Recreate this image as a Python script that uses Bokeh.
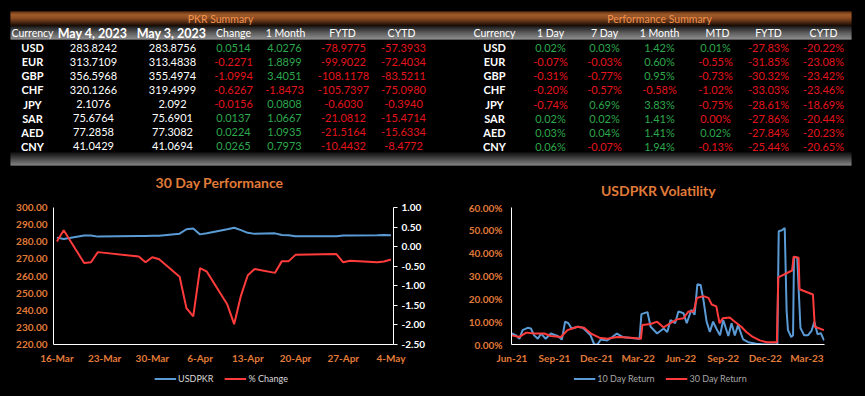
import numpy as np
import pandas as pd
from bokeh.plotting import figure
from bokeh.models import (Range1d, LinearAxis, NumeralTickFormatter, FixedTicker,
                          CustomJSTickFormatter, ColumnDataSource, Legend, LegendItem)
from bokeh.layouts import column, row
from bokeh.core.properties import value
from bokeh.embed import file_html
from bokeh.resources import INLINE

# ------------------------------------------------------------------ data
currencies = ["USD", "EUR", "GBP", "CHF", "JPY", "SAR", "AED", "CNY"]

pkr_headers = ["Currency", "May 4, 2023", "May 3, 2023", "Change", "1 Month", "FYTD", "CYTD"]
rate_may4 = ["283.8242", "313.7109", "356.5968", "320.1266", "2.1076", "75.6764", "77.2858", "41.0429"]
rate_may3 = ["283.8756", "313.4838", "355.4974", "319.4999", "2.092", "75.6901", "77.3082", "41.0694"]
pkr_change = [0.0514, -0.2271, -1.0994, -0.6267, -0.0156, 0.0137, 0.0224, 0.0265]
pkr_1month = [4.0276, 1.8899, 3.4051, -1.8473, 0.0808, 1.0667, 1.0935, 0.7973]
pkr_fytd = [-78.9775, -99.9022, -108.1178, -105.7397, -0.6030, -21.0812, -21.5164, -10.4432]
pkr_cytd = [-57.3933, -72.4034, -83.5211, -75.0980, -0.3940, -15.4714, -15.6334, -8.4772]

perf_headers = ["Currency", "1 Day", "7 Day", "1 Month", "MTD", "FYTD", "CYTD"]
perf_1day = [0.02, -0.07, -0.31, -0.20, -0.74, 0.02, 0.03, 0.06]
perf_7day = [0.03, -0.03, -0.77, -0.57, 0.69, 0.02, 0.04, -0.07]
perf_1month = [1.42, 0.60, 0.95, -0.58, 3.83, 1.41, 1.41, 1.94]
perf_mtd = [0.01, -0.55, -0.73, -1.02, -0.75, -0.004, 0.02, -0.13]
perf_fytd = [-27.83, -31.85, -30.32, -33.03, -28.61, -27.86, -27.84, -25.44]
perf_cytd = [-20.22, -23.08, -23.42, -23.46, -18.69, -20.44, -20.23, -20.65]

chart_titles = ["30 Day Performance", "USDPKR Volatility"]

perf_dates = ["2023-03-16", "2023-03-17", "2023-03-20", "2023-03-21", "2023-03-22",
              "2023-03-28", "2023-03-29", "2023-03-30", "2023-03-31", "2023-04-03",
              "2023-04-04", "2023-04-05", "2023-04-06", "2023-04-07", "2023-04-10",
              "2023-04-11", "2023-04-12", "2023-04-13", "2023-04-14", "2023-04-17",
              "2023-04-18", "2023-04-19", "2023-04-20", "2023-04-26", "2023-04-27",
              "2023-04-28", "2023-05-02", "2023-05-03", "2023-05-04"]
usdpkr = [282.4, 281.6, 283.6, 283.7, 283.0, 283.4, 283.4, 283.5, 283.5, 284.7,
          287.3, 287.8, 284.3, 285.0, 287.3, 288.2, 286.8, 285.2, 284.6, 284.9,
          283.9, 283.8, 283.2, 283.2, 283.7, 283.7, 283.8, 283.88, 283.82]
pct_change = [0.13, 0.42, -0.42, -0.40, -0.14, -0.25, -0.40, -0.27, -0.32, -0.77,
              -1.57, -1.78, -0.55, -0.64, -1.48, -1.98, -1.25, -0.73, -0.57, -0.67,
              -0.37, -0.37, -0.21, -0.19, -0.40, -0.36, -0.40, -0.38, -0.33]
perf_ticks = ["2023-03-16", "2023-03-23", "2023-03-30", "2023-04-06", "2023-04-13",
              "2023-04-20", "2023-04-27", "2023-05-04"]
usd_ticks = [220, 230, 240, 250, 260, 270, 280, 290, 300]
pct_ticks = [-2.5, -2.0, -1.5, -1.0, -0.5, 0.0, 0.5, 1.0]

vol10_dates = ["2021-06-28", "2021-07-07", "2021-07-14", "2021-07-21", "2021-08-01",
               "2021-08-08", "2021-08-15", "2021-08-23", "2021-08-30", "2021-09-09",
               "2021-09-20", "2021-10-05", "2021-10-14", "2021-10-21", "2021-10-28",
               "2021-11-04", "2021-11-17", "2021-11-28", "2021-12-08", "2021-12-15",
               "2021-12-23", "2021-12-30", "2022-01-06", "2022-01-20", "2022-01-31",
               "2022-02-10", "2022-02-22", "2022-03-13", "2022-03-31", "2022-04-04",
               "2022-04-17", "2022-04-24", "2022-05-08", "2022-05-22", "2022-05-30",
               "2022-06-06", "2022-06-16", "2022-06-23", "2022-07-04", "2022-07-11",
               "2022-07-21", "2022-07-28", "2022-08-03", "2022-08-10", "2022-08-16",
               "2022-08-23", "2022-08-30", "2022-09-06", "2022-09-13", "2022-09-21",
               "2022-09-28", "2022-10-09", "2022-10-16", "2022-10-23", "2022-10-30",
               "2022-11-10", "2022-11-21", "2022-12-08", "2022-12-25", "2023-01-23",
               "2023-01-26", "2023-02-02", "2023-02-08", "2023-02-12", "2023-02-15",
               "2023-02-22", "2023-02-26", "2023-02-28", "2023-03-07", "2023-03-14",
               "2023-03-22", "2023-03-30", "2023-04-07", "2023-04-13", "2023-04-20",
               "2023-04-27", "2023-05-04"]
vol10 = [4.8, 4.0, 2.5, 6.3, 7.3, 7.0, 4.0, 2.5, 4.8, 2.5,
         4.8, 3.7, 2.2, 10.0, 9.3, 7.0, 7.8, 7.3, 5.5, 4.0,
         0.0, 0.0, 2.2, 1.8, 3.3, 4.8, 3.3, 2.8, 2.5, 13.3,
         14.2, 7.8, 4.8, 7.0, 5.5, 10.7, 9.3, 14.5, 13.7, 9.3,
         15.2, 13.0, 26.4, 26.1, 19.7, 10.0, 5.5, 10.0, 7.0, 4.0,
         10.7, 3.7, 9.3, 4.0, 8.5, 2.2, 1.0, 0.3, 0.0, 0.0,
         49.6, 50.0, 51.0, 15.0, 6.3, 3.3, 4.0, 38.4, 38.0, 7.2,
         4.0, 4.0, 6.0, 10.0, 4.5, 5.0, 1.8]

vol30_dates = ["2021-06-28", "2021-07-14", "2021-07-29", "2021-08-15", "2021-09-06",
               "2021-09-20", "2021-10-12", "2021-10-26", "2021-11-17", "2021-12-01",
               "2021-12-16", "2022-01-03", "2022-01-20", "2022-02-11", "2022-03-12",
               "2022-04-03", "2022-04-06", "2022-04-24", "2022-05-08", "2022-05-22",
               "2022-06-05", "2022-06-20", "2022-07-04", "2022-07-15", "2022-07-26",
               "2022-08-02", "2022-08-16", "2022-08-27", "2022-09-03", "2022-09-13",
               "2022-09-20", "2022-09-27", "2022-10-12", "2022-10-23", "2022-11-06",
               "2022-11-17", "2022-12-01", "2022-12-16", "2022-12-31", "2023-01-22",
               "2023-01-25", "2023-02-24", "2023-02-27", "2023-03-10", "2023-03-12",
               "2023-04-10", "2023-04-14", "2023-05-04"]
vol30 = [4.0, 3.3, 5.2, 4.8, 4.8, 3.7, 3.3, 6.3, 7.8, 7.3,
         4.8, 3.0, 2.5, 3.3, 3.0, 2.5, 8.5, 9.0, 10.0, 7.5,
         9.3, 11.0, 11.5, 14.5, 14.5, 20.4, 21.2, 20.4, 17.5, 16.7,
         9.3, 11.5, 11.8, 10.0, 7.8, 5.5, 3.3, 1.8, 1.0, 1.0,
         29.4, 32.4, 38.4, 38.0, 24.2, 21.9, 7.8, 6.3]
vol_ticks = ["2021-06-28", "2021-09-28", "2021-12-28", "2022-03-28", "2022-06-28",
             "2022-09-28", "2022-12-28", "2023-03-28"]
vol_yticks = [0.0, 0.1, 0.2, 0.3, 0.4, 0.5, 0.6]

# ------------------------------------------------------------------ styles
FONT = "Lato"
ORANGE = "#E07B39"
GREEN = "#2EA84C"
RED = "#E5141C"
BLUE = "#5B9BD5"
LRED = "#FF3B3B"
W = 865


def ms(dates):
    return [pd.Timestamp(d).value / 1e6 for d in dates]


def hexmix(stops, t):
    pos = [s[0] for s in stops]
    cols = [np.array([int(s[1][i:i + 2], 16) for i in (1, 3, 5)]) for s in stops]
    for k in range(len(stops) - 1):
        if pos[k] <= t <= pos[k + 1]:
            f = (t - pos[k]) / (pos[k + 1] - pos[k])
            c = cols[k] * (1 - f) + cols[k + 1] * f
            return "#%02x%02x%02x" % tuple(int(round(v)) for v in c)
    return stops[-1][1]


def gradient_bar(fig, left, right, top, bottom, stops):
    n = int(bottom - top)
    tops = [top + i for i in range(n)]
    cols = [hexmix(stops, i / max(n - 1, 1)) for i in range(n)]
    fig.quad(left=[left] * n, right=[right] * n, top=tops, bottom=[t + 1 for t in tops],
             fill_color=cols, line_color=None)


def blank_fig(width, height, **kw):
    return figure(width=width, height=height, x_axis_type=None, y_axis_type=None,
                  output_backend="svg", toolbar_location=None, background_fill_color="black",
                  border_fill_color="black", outline_line_color=None, **kw)


# ------------------------------------------------------------------ tables (+ chart titles)
TH = 198
t = blank_fig(W, TH, x_range=Range1d(0, W), y_range=Range1d(TH, 0), min_border=0)

BAR_L, BAR_R = 10, 851
gradient_bar(t, BAR_L, BAR_R, 11, 26, [(0, "#8a4518"), (0.2, "#d47c3c"), (0.45, "#bd672e"),
                                        (1.0, "#1e0d05")])
gradient_bar(t, BAR_L, BAR_R, 26, 39, [(0, "#2c2c2c"), (0.5, "#7c7c7c"), (1.0, "#b8b8b8")])
gradient_bar(t, BAR_L, BAR_R, 152, 165, [(0, "#1a1a1a"), (0.6, "#6e6e6e"), (1.0, "#a8a8a8")])

t.text(x=[220, 659], y=[18.5, 18.5], text=["PKR Summary", "Performance Summary"],
       text_color="#F29450", text_font=value(FONT), text_font_size="10.5px",
       text_align="center", text_baseline="middle")

HEAD_Y = 32.5
left_cols = [32, 92, 171, 233, 285, 342, 401]
right_cols = [494, 550, 604, 659, 717, 768, 823]
left_vals_x = [32, 93, 172, 233, 284, 343, 403]
right_vals_x = [494, 550, 604, 659, 715, 768, 823]

hx = left_cols + right_cols
ht = pkr_headers + perf_headers
bold_idx = [1, 2]
norm = [k for k in range(len(ht)) if k not in bold_idx]
t.text(x=[hx[k] for k in norm], y=[HEAD_Y] * len(norm), text=[ht[k] for k in norm],
       text_color="white", text_font=value(FONT), text_font_size="10.5px",
       text_align="center", text_baseline="middle")
t.text(x=[hx[k] for k in bold_idx], y=[HEAD_Y] * 2, text=[ht[k] for k in bold_idx],
       text_color="white", text_font=value(FONT), text_font_size="12.5px",
       text_font_style="bold", text_align="center", text_baseline="middle")

row_y = [47.3 + 14.06 * i for i in range(len(currencies))]

t.text(x=[left_vals_x[0]] * 8 + [right_vals_x[0]] * 8, y=row_y + row_y,
       text=currencies + currencies, text_color="white", text_font=value(FONT),
       text_font_size="11px", text_font_style="bold", text_align="center",
       text_baseline="middle")
t.text(x=[left_vals_x[1]] * 8 + [left_vals_x[2]] * 8, y=row_y + row_y,
       text=rate_may4 + rate_may3, text_color="white", text_font=value(FONT),
       text_font_size="11px", text_align="center", text_baseline="middle")


def fmt4(v):
    return "%.4f" % v


def fmtp(v):
    s = "%.2f%%" % v
    return s.replace("-0.00%", "0.00%")


sx, sy, st, sc = [], [], [], []
for ci, series in enumerate([pkr_change, pkr_1month, pkr_fytd, pkr_cytd]):
    for ri, v in enumerate(series):
        sx.append(left_vals_x[3 + ci]); sy.append(row_y[ri]); st.append(fmt4(v))
        sc.append(GREEN if v >= 0 else RED)
for ci, series in enumerate([perf_1day, perf_7day, perf_1month, perf_mtd, perf_fytd, perf_cytd]):
    for ri, v in enumerate(series):
        sx.append(right_vals_x[1 + ci]); sy.append(row_y[ri]); st.append(fmtp(v))
        sc.append(GREEN if v >= 0 else RED)
t.text(x="x", y="y", text="t", text_color="c",
       source=ColumnDataSource(dict(x=sx, y=sy, t=st, c=sc)),
       text_font=value(FONT), text_font_size="11px", text_align="center",
       text_baseline="middle")

# chart titles (sit just above each chart)
t.text(x=[219, 658], y=[182, 190], text=chart_titles, text_color=ORANGE,
       text_font=value(FONT), text_font_size="14px", text_font_style="bold",
       text_align="center", text_baseline="middle")

# ------------------------------------------------------------------ charts
MONTHS_JS = "const m=['Jan','Feb','Mar','Apr','May','Jun','Jul','Aug','Sep','Oct','Nov','Dec'];"


def style_common(p):
    p.xgrid.visible = False
    p.ygrid.visible = False
    for ax in p.axis:
        ax.axis_line_color = "white"
        ax.axis_line_width = 1
        ax.major_tick_line_color = None
        ax.minor_tick_line_color = None
        ax.major_tick_out = 0
        ax.major_tick_in = 0
        ax.major_label_text_font = FONT
        ax.major_label_text_font_size = "10px"
        ax.major_label_text_font_style = "bold"
        ax.major_label_text_color = ORANGE


CT, FH, CB = 9, 137, 22  # top border, frame height, bottom border of both charts

x1 = Range1d(pd.Timestamp("2023-03-15 12:00"), pd.Timestamp("2023-05-04 09:00"))
y1 = Range1d(220, 300)
p1 = figure(frame_width=340, frame_height=FH, x_axis_type="datetime", x_range=x1, y_range=y1,
            output_backend="svg", toolbar_location=None,
            min_border_left=53, min_border_right=39, min_border_top=CT, min_border_bottom=CB,
            background_fill_color="black", border_fill_color="black", outline_line_color=None)
p1.title.visible = False
p1.extra_y_ranges = {"pct": Range1d(-2.5, 1.0)}
pd_dates = pd.to_datetime(perf_dates)
r1 = p1.line(pd_dates, usdpkr, line_color=BLUE, line_width=2)
r2 = p1.line(pd_dates, pct_change, line_color=LRED, line_width=2, y_range_name="pct")
rax = LinearAxis(y_range_name="pct", ticker=FixedTicker(ticks=pct_ticks),
                 formatter=NumeralTickFormatter(format="0.00"))
p1.add_layout(rax, "right")
style_common(p1)
rax.major_tick_line_color = "white"
rax.major_tick_out = 4
rax.major_label_text_color = "white"
rax.major_label_standoff = 4
p1.yaxis[0].ticker = FixedTicker(ticks=usd_ticks)
p1.yaxis[0].formatter = NumeralTickFormatter(format="0.00")
p1.yaxis[0].major_label_standoff = 6
p1.xaxis[0].ticker = FixedTicker(ticks=ms(perf_ticks))
p1.xaxis[0].formatter = CustomJSTickFormatter(
    code=MONTHS_JS + "const d=new Date(tick);return d.getUTCDate()+'-'+m[d.getUTCMonth()];")
p1.xaxis[0].major_label_standoff = 7

x2 = Range1d(pd.Timestamp("2021-06-27"), pd.Timestamp("2023-05-05"))
y2 = Range1d(0, 0.6)
p2 = figure(frame_width=313, frame_height=FH, x_axis_type="datetime", x_range=x2, y_range=y2,
            output_backend="svg", toolbar_location=None,
            min_border_left=79, min_border_right=41, min_border_top=CT, min_border_bottom=CB,
            background_fill_color="black", border_fill_color="black", outline_line_color=None)
p2.title.visible = False
r3 = p2.line(pd.to_datetime(vol10_dates), np.array(vol10) / 100.0, line_color=BLUE, line_width=2)
r4 = p2.line(pd.to_datetime(vol30_dates), np.array(vol30) / 100.0, line_color=LRED, line_width=2)
style_common(p2)
p2.yaxis[0].ticker = FixedTicker(ticks=vol_yticks)
p2.yaxis[0].formatter = NumeralTickFormatter(format="0.00%")
p2.yaxis[0].major_label_standoff = 9
p2.xaxis[0].ticker = FixedTicker(ticks=ms(vol_ticks))
p2.xaxis[0].formatter = CustomJSTickFormatter(
    code=MONTHS_JS + "const d=new Date(tick);return m[d.getUTCMonth()]+'-'+String(d.getUTCFullYear()).slice(2);")
p2.xaxis[0].major_label_standoff = 7

# ------------------------------------------------------------------ legend strips
LH = 24


def legend_strip(width, pad_left, labels, colors, text_color):
    f = blank_fig(width, LH, x_range=Range1d(0, 1), y_range=Range1d(0, 1),
                  min_border_left=pad_left, min_border_right=0, min_border_top=0,
                  min_border_bottom=0, frame_width=width - pad_left, frame_height=LH)
    items = []
    for lab, col in zip(labels, colors):
        r = f.line(x=[np.nan], y=[np.nan], line_color=col, line_width=2)
        items.append(LegendItem(label=lab, renderers=[r]))
    lg = Legend(items=items, orientation="horizontal", location="center",
                background_fill_alpha=0, border_line_color=None, label_text_color=text_color,
                label_text_font=FONT, label_text_font_size="9px", glyph_width=22,
                glyph_height=10, label_height=10, label_standoff=2, spacing=11,
                padding=0, margin=0)
    f.add_layout(lg, "center")
    return f


l1 = legend_strip(432, 10, ["USDPKR", "% Change"], [BLUE, LRED], "#d9d9d9")
l2 = legend_strip(433, 23, ["10 Day Return", "30 Day Return"], [BLUE, LRED], "#a6a6a6")

layout = column(t, row(p1, p2), row(l1, l2))
html = file_html(layout, INLINE, title="PKR Summary")
html = html.replace("<head>", "<head><style>body{background:#000000;}</style>", 1)
open("out.html", "w").write(html)
